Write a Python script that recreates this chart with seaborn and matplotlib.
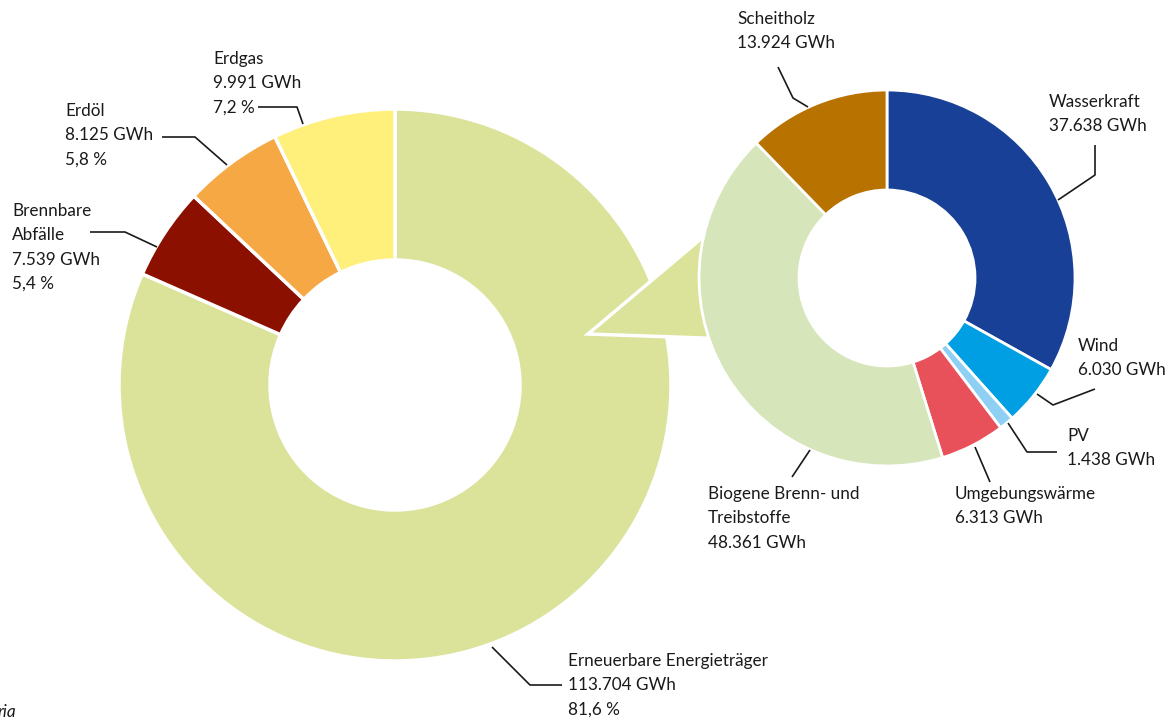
import seaborn as sns
import matplotlib.pyplot as plt
from matplotlib.patches import Polygon

# main donut: total energy sources (GWh)
main_labels = ["Erneuerbare Energieträger", "Brennbare\nAbfälle", "Erdöl", "Erdgas"]
main_values = [113704, 7539, 8125, 9991]
main_colors = ["#dbe39b", "#8b1000", "#f5a843", "#fef07a"]

# detail donut: renewables split (GWh)
ren_labels = ["Wasserkraft", "Wind", "PV", "Umgebungswärme",
              "Biogene Brenn- und\nTreibstoffe", "Scheitholz"]
ren_values = [37638, 6030, 1438, 6313, 48361, 13924]
ren_colors = ["#174096", "#009fe3", "#8dd0f3", "#e9515a", "#d7e5bb", "#b87200"]

W, H = 1170, 722


def Y(y):
    # image pixel row -> data y
    return H - y


def fmt_gwh(v):
    return f"{v:,}".replace(",", ".") + " GWh"


def fmt_pct(v, total):
    return f"{v / total * 100:.1f}".replace(".", ",") + " %"


sns.set_theme(style="white")
plt.rcParams["font.family"] = ["Lato", "DejaVu Sans"]

fig = plt.figure(figsize=(W / 100, H / 100), dpi=100)
ax = fig.add_axes([0, 0, 1, 1])

# big donut
ax.pie(main_values, colors=main_colors, startangle=90, counterclock=False,
       center=(395, Y(385)), radius=276, frame=True,
       wedgeprops=dict(width=151, edgecolor="white", linewidth=2.5))

# connector triangle
tri = Polygon([(588, Y(334)), (702, Y(238)), (760, Y(340))], closed=True,
              facecolor=main_colors[0], edgecolor="white", linewidth=2.5, zorder=3)
ax.add_patch(tri)

# small donut
wedges, _ = ax.pie(ren_values, colors=ren_colors, startangle=90, counterclock=False,
                   center=(887, Y(278)), radius=188, frame=True,
                   wedgeprops=dict(width=100, edgecolor="white", linewidth=2))
for w in wedges:
    w.set_zorder(4)

ax.set_xlim(0, W)
ax.set_ylim(0, H)
ax.set_aspect("equal")
ax.axis("off")

fs = 12.3
ls = 1.64
total = sum(main_values)

def label(x, y, txt, line):
    ax.text(x, Y(y), txt, fontsize=fs, linespacing=ls, ha="left", va="top",
            color="#1a1a1a", zorder=6)
    xs = [p[0] for p in line]
    ys = [Y(p[1]) for p in line]
    ax.plot(xs, ys, color="#1a1a1a", lw=1.2, zorder=6, solid_capstyle="butt")

main_text = [f"{n}\n{fmt_gwh(v)}\n{fmt_pct(v, total)}" for n, v in zip(main_labels, main_values)]
label(568, 653, main_text[0], [(492, 647), (530, 685), (562, 685)])
label(12, 203, main_text[1], [(90, 232), (125, 232), (157, 247)])
label(65, 103, main_text[2], [(162, 137), (195, 137), (227, 165)])
label(213, 51, main_text[3], [(258, 107), (297, 107), (303, 124)])

ren_text = [f"{n}\n{fmt_gwh(v)}" for n, v in zip(ren_labels, ren_values)]
label(1049, 94, ren_text[0], [(1095, 145), (1095, 175), (1058, 200)])
label(1078, 338, ren_text[1], [(1095, 389), (1053, 405), (1037, 394)])
label(1067, 428, ren_text[2], [(1057, 452), (1027, 452), (1008, 423)])
label(955, 486, ren_text[3], [(990, 482), (975, 447)])
label(708, 486, ren_text[4], [(792, 477), (810, 450)])
label(737, 11, ren_text[5], [(778, 67), (793, 98), (808, 107)])

ax.text(-2, Y(712), "ria", fontsize=fs, style="italic", ha="left", va="center",
        color="#1a1a1a")

fig.savefig("out.png", dpi=100)
